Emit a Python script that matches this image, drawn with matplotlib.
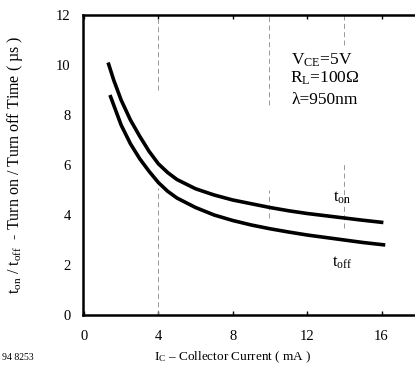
import numpy as np
import matplotlib.pyplot as plt

plt.rcParams['font.family'] = ['Liberation Serif', 'DejaVu Serif']
plt.rcParams['mathtext.fontset'] = 'custom'
plt.rcParams['mathtext.rm'] = 'Liberation Serif'
plt.rcParams['mathtext.it'] = 'Liberation Serif'

# switching times vs collector current
ic_on = [1.3, 1.6, 2.0, 2.5, 3.0, 3.5, 4.0, 4.5, 5.0, 6.0, 7.0, 8.0, 9.0, 10.0,
         11.0, 12.0, 13.0, 14.0, 15.0, 16.1]
t_on = [10.1, 9.4, 8.6, 7.8, 7.15, 6.55, 6.05, 5.7, 5.42, 5.05, 4.8, 4.6, 4.45, 4.3,
        4.17, 4.06, 3.97, 3.88, 3.79, 3.7]
ic_off = [1.4, 1.7, 2.0, 2.5, 3.0, 3.5, 4.0, 4.5, 5.0, 6.0, 7.0, 8.0, 9.0, 10.0,
          11.0, 12.0, 13.0, 14.0, 15.0, 16.2]
t_off = [8.8, 8.2, 7.6, 6.85, 6.25, 5.75, 5.3, 4.95, 4.68, 4.3, 4.0, 3.78, 3.6, 3.45,
         3.32, 3.2, 3.1, 3.0, 2.9, 2.8]

xticks = [0, 4, 8, 12, 16]
yticks = [0, 2, 4, 6, 8, 10, 12]

fig = plt.figure(figsize=(4.15, 3.75), dpi=100)
ax = fig.add_axes([0.2, 0.16, 0.8, 0.8])

# broken dashed grid lines left over on the sheet
grid_segs = [(4, 9.0, 12), (4, 0, 5.1), (9.95, 8.4, 12), (9.95, 3.9, 5.0),
             (14, 10.8, 12), (14, 3.5, 6.1)]
for gx, y0, y1 in grid_segs:
    ax.vlines(gx, y0, y1, colors='#888888', linestyles=(0, (6, 4)), lw=0.6)

ax.plot(ic_on, t_on, color='black', lw=2.6, solid_capstyle='butt')
ax.plot(ic_off, t_off, color='black', lw=2.6, solid_capstyle='butt')

ax.text(13.9, 4.7, '$\\mathrm{t_{on}}$', fontsize=12, ha='center', va='center')
ax.text(13.9, 2.1, '$\\mathrm{t_{off}}$', fontsize=12, ha='center', va='center')

ax.text(12.8, 10.2, '$\\mathrm{V_{CE}}$=5V', fontsize=12.5, ha='center', va='center')
ax.text(12.95, 9.45, '$\\mathrm{R_{L}}$=100\u03a9', fontsize=12.5, ha='center', va='center')
ax.text(12.95, 8.6, '\u03bb=950nm', fontsize=12.5, ha='center', va='center')

ax.set_xlim(-0.05, 17.8)
ax.set_ylim(0, 12)
ax.set_xticks(xticks)
ax.set_yticks(yticks)
ax.tick_params(length=0, labelsize=10.5)
ax.tick_params(axis='x', pad=11)
ax.tick_params(axis='y', pad=9)
ax.tick_params(axis='x', top=True, direction='in', length=3, width=1)

for side in ['left', 'top', 'bottom']:
    ax.spines[side].set_linewidth(1.8)
ax.spines['right'].set_visible(False)

ax.set_xlabel('$\\mathrm{I_C}$ \u2013 Collector Current ( mA )', fontsize=9.5)
ax.set_ylabel('$\\mathrm{t_{on}}$ / $\\mathrm{t_{off}}$  - Turn on / Turn off Time ( \u00b5s )',
              fontsize=11.5)
ax.xaxis.set_label_coords(0.45, -0.115)
ax.yaxis.set_label_coords(-0.175, 0.5)

fig.text(0.005, 0.04, '94 8253', fontsize=7)

fig.savefig('out.png', dpi=100)
